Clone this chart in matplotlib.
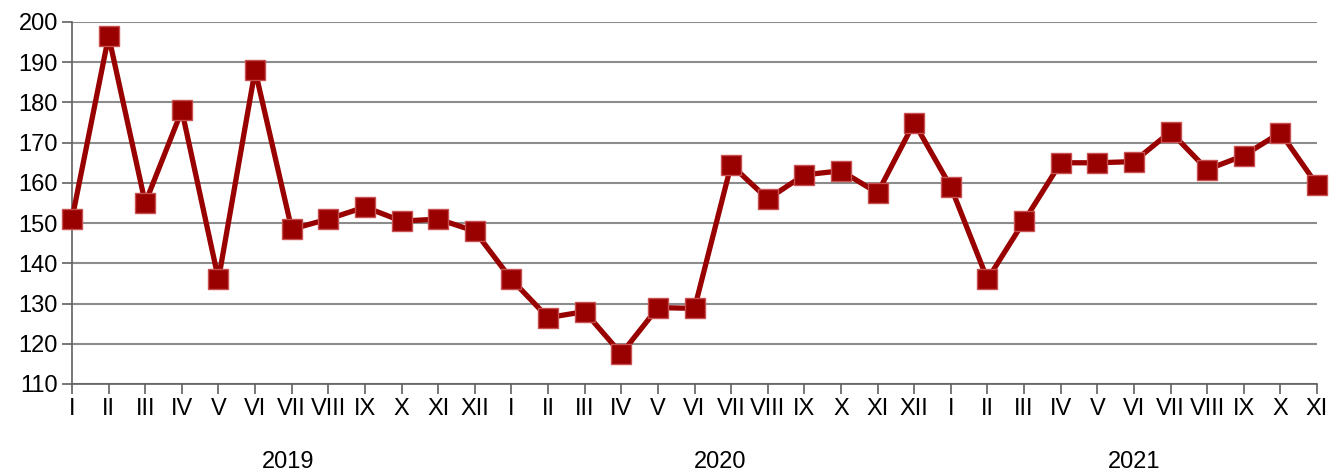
import matplotlib
matplotlib.use('Agg')
import matplotlib.pyplot as plt

plt.rcParams['font.family'] = ['Liberation Sans', 'DejaVu Sans']

miesiace = ['I', 'II', 'III', 'IV', 'V', 'VI', 'VII', 'VIII', 'IX', 'X', 'XI', 'XII']
etykiety = miesiace * 2 + miesiace[:11]
lata = ['2019', '2020', '2021']
wartosci = [151, 196.5, 155, 178, 136, 188, 148.5, 151, 154, 150.5, 151, 148,
            136, 126.5, 128, 117.5, 129, 128.8, 164.5, 156, 162, 163, 157.5, 175,
            159, 136, 150.5, 165, 165, 165.3, 172.7, 163.3, 166.8, 172.5, 159.5]

x = list(range(len(wartosci)))

fig = plt.figure(figsize=(13.31, 4.75), dpi=100)
ax = fig.add_axes([72/1331, 91/475, (1317-72)/1331, (384-22)/475])

ax.plot(x, wartosci, color='#990000', lw=3.8, marker='s', markersize=14,
        markerfacecolor='#990000', markeredgecolor='#c85050', markeredgewidth=1,
        zorder=3, clip_on=False)

ax.set_xlim(0, len(wartosci) - 1)
ax.set_ylim(110, 200)
ax.set_yticks(range(110, 201, 10))
ax.set_xticks(x)
ax.set_xticklabels(etykiety)
ax.yaxis.grid(True, color='#8c8c8c', lw=1.5)
ax.set_axisbelow(True)
for s in ['top', 'right']:
    ax.spines[s].set_visible(False)
ax.spines['left'].set_color('#606060')
ax.spines['bottom'].set_color('#606060')
ax.spines['left'].set_linewidth(1.2)
ax.spines['bottom'].set_linewidth(1.2)
ax.tick_params(axis='both', labelsize=17, color='#606060', length=7, width=1.2)
ax.tick_params(axis='y', pad=3)
ax.tick_params(axis='x', pad=3)

# podpisy lat pod osią
for rok, poz in zip(lata, [5.9, 17.7, 29.0]):
    ax.text(poz, -0.215, rok, transform=ax.get_xaxis_transform(), ha='center',
            va='center', fontsize=17)

plt.savefig('out.png', dpi=100)
